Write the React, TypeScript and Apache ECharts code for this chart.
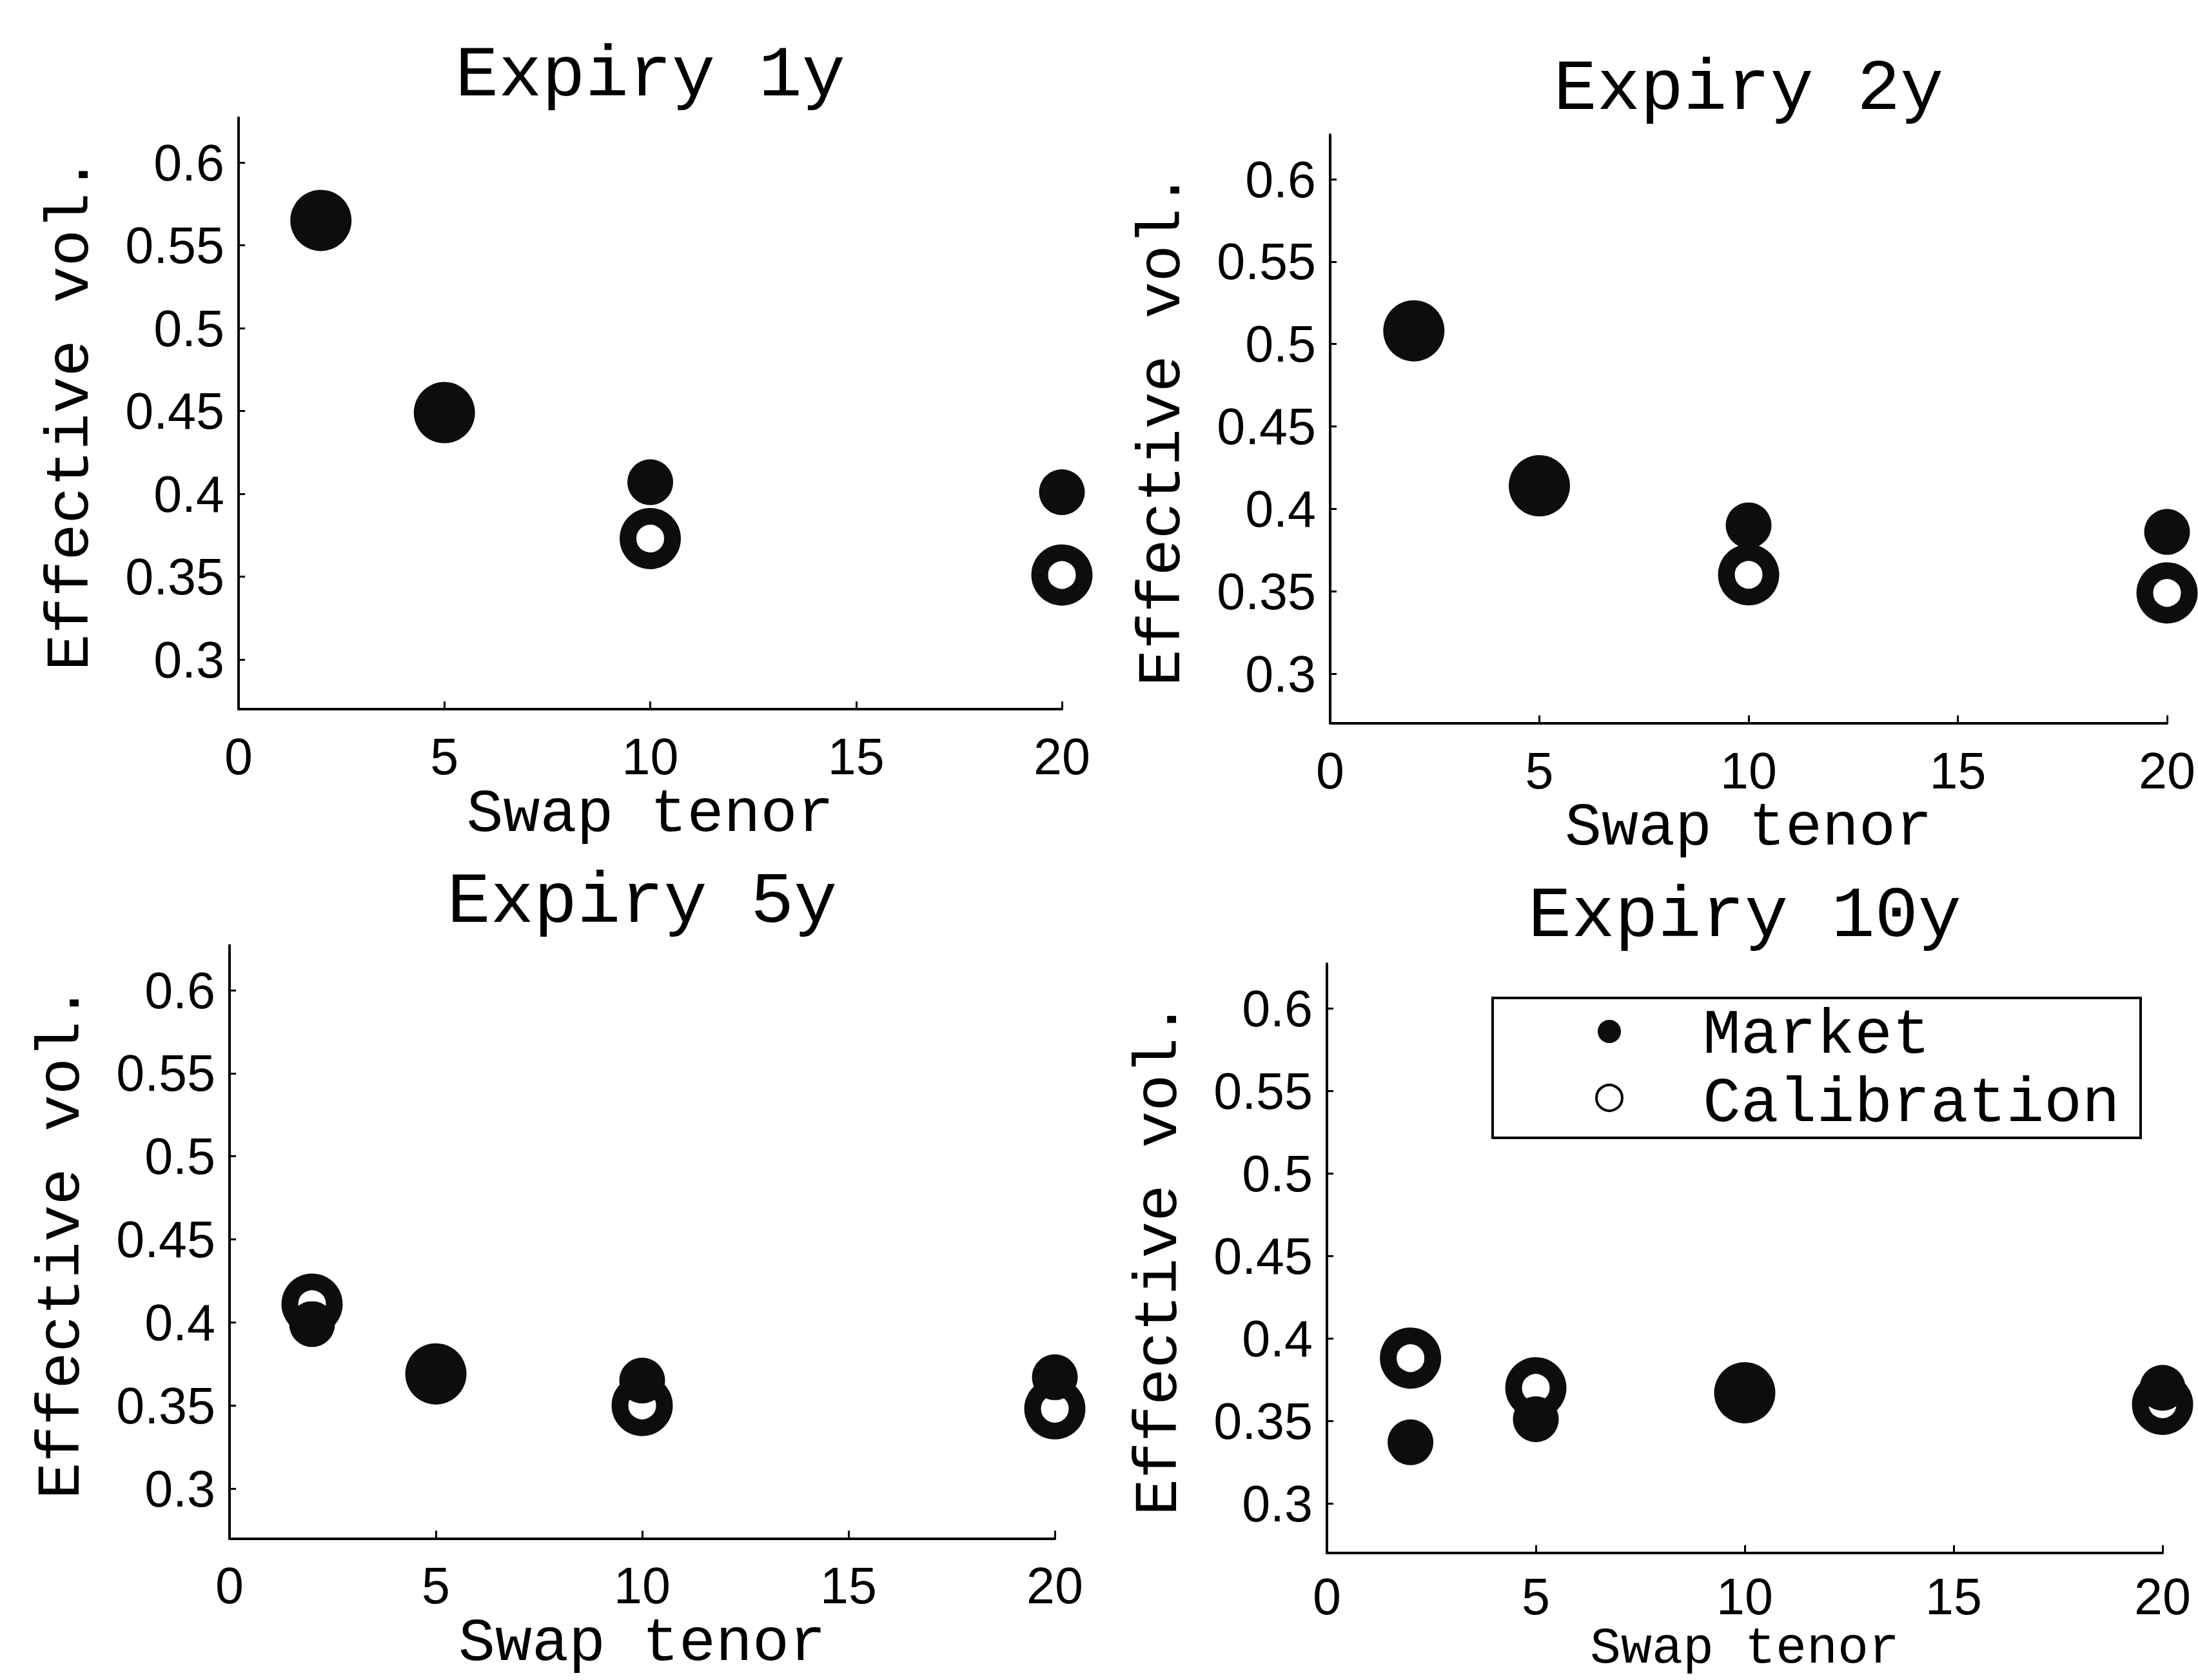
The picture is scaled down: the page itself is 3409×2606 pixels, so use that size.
import React, { useEffect, useRef } from 'react';
import * as echarts from 'echarts';

// ---- data ----
const tenors = [2, 5, 10, 20];
const expiryTitles = ['Expiry 1y', 'Expiry 2y', 'Expiry 5y', 'Expiry 10y'];
const market1y = [0.565, 0.449, 0.407, 0.401];
const calib1y = [0.565, 0.449, 0.373, 0.351];
const market2y = [0.508, 0.414, 0.39, 0.386];
const calib2y = [0.508, 0.414, 0.36, 0.349];
const market5y = [0.399, 0.369, 0.365, 0.367];
const calib5y = [0.411, 0.369, 0.35, 0.348];
const market10y = [0.337, 0.351, 0.367, 0.37];
const calib10y = [0.388, 0.37, 0.367, 0.36];
const yTickValues = [0.3, 0.35, 0.4, 0.45, 0.5, 0.55, 0.6];
const xAxisLabel = 'Swap tenor';
const yAxisLabel = 'Effective vol.';
const legendNames = ['Market', 'Calibration'];

const marketSets = [market1y, market2y, market5y, market10y];
const calibSets = [calib1y, calib2y, calib5y, calib10y];

const Y_MIN = 0.27;
const Y_MAX = 0.627;

// panel geometry: pixel of x=0, x=20, y=0.6, y=0.3, title centre y
const panels = [
  { x0: 370, x20: 1647, y06: 252, y03: 1023, ty: 120, nameGap: 116, fs: 95, lm: 34 },
  { x0: 2063, x20: 3361, y06: 278, y03: 1045, ty: 141, nameGap: 116, fs: 95, lm: 34 },
  { x0: 356, x20: 1636, y06: 1536, y03: 2309, ty: 1402, nameGap: 116, fs: 95, lm: 34 },
  { x0: 2058, x20: 3354, y06: 1564, y03: 2332, ty: 1424, nameGap: 109, fs: 80, lm: 28 },
];

const MONO = "'Liberation Mono', 'DejaVu Sans Mono', monospace";
const SANS = "'Liberation Sans', Arial, sans-serif";
const INK = '#0d0d0d';

export default function App() {
  const ref = useRef<HTMLDivElement>(null);
  useEffect(() => {
    if (!ref.current) return;
    const chart = echarts.init(ref.current, undefined, { renderer: 'svg' });

    const grids: any[] = [];
    const xAxes: any[] = [];
    const yAxes: any[] = [];
    const titles: any[] = [];
    const series: any[] = [];

    panels.forEach((p, i) => {
      const ppu = (p.y03 - p.y06) / 0.3;
      const top = p.y06 - (Y_MAX - 0.6) * ppu;
      const height = (Y_MAX - Y_MIN) * ppu;
      grids.push({ left: p.x0, top, width: p.x20 - p.x0, height });
      titles.push({
        text: expiryTitles[i],
        left: (p.x0 + p.x20) / 2,
        top: p.ty - 58,
        textAlign: 'center',
        padding: 0,
        textStyle: { fontFamily: MONO, fontSize: 112, fontWeight: 'normal', color: '#000' },
      });
      xAxes.push({
        gridIndex: i,
        type: 'value',
        min: 0,
        max: 20,
        interval: 5,
        name: xAxisLabel,
        nameLocation: 'middle',
        nameGap: p.nameGap,
        nameTextStyle: { fontFamily: MONO, fontSize: p.fs, color: '#000' },
        axisLine: { show: true, onZero: false, lineStyle: { color: '#000', width: 4 } },
        axisTick: { show: true, inside: true, length: 12, lineStyle: { color: '#000', width: 3 } },
        axisLabel: { fontFamily: SANS, fontSize: 79, color: '#000', margin: p.lm },
        splitLine: { show: false },
      });
      yAxes.push({
        gridIndex: i,
        type: 'value',
        min: Y_MIN,
        max: Y_MAX,
        name: yAxisLabel,
        nameLocation: 'middle',
        nameGap: 212,
        nameRotate: 90,
        nameTextStyle: { fontFamily: MONO, fontSize: 95, color: '#000' },
        axisLine: { show: true, onZero: false, lineStyle: { color: '#000', width: 4 } },
        axisTick: {
          show: true,
          inside: true,
          length: 10,
          customValues: yTickValues,
          lineStyle: { color: '#000', width: 3 },
        },
        axisLabel: {
          fontFamily: SANS,
          fontSize: 79,
          color: '#000',
          margin: 22,
          customValues: yTickValues,
          formatter: (v: number) => String(+v.toFixed(2)),
        },
        splitLine: { show: false },
      });
      series.push({
        name: legendNames[1],
        type: 'scatter',
        xAxisIndex: i,
        yAxisIndex: i,
        symbol: 'circle',
        symbolSize: 69,
        itemStyle: { color: 'transparent', borderColor: INK, borderWidth: 26, opacity: 1 },
        emphasis: { disabled: true },
        data: tenors.map((t, j) => [t, calibSets[i][j]]),
      });
      series.push({
        name: legendNames[0],
        type: 'scatter',
        xAxisIndex: i,
        yAxisIndex: i,
        symbol: 'circle',
        symbolSize: 71,
        itemStyle: { color: INK, opacity: 1 },
        emphasis: { disabled: true },
        data: tenors.map((t, j) => [t, marketSets[i][j]]),
      });
    });

    const lg = { x: 2315, y: 1548, w: 1005, h: 217 };
    const graphic: any[] = [
      {
        type: 'rect',
        shape: { x: lg.x, y: lg.y, width: lg.w, height: lg.h },
        style: { fill: '#fff', stroke: '#000', lineWidth: 4 },
        z: 100,
      },
      {
        type: 'circle',
        shape: { cx: 2496, cy: 1600, r: 18 },
        style: { fill: INK },
        z: 101,
      },
      {
        type: 'circle',
        shape: { cx: 2496, cy: 1703, r: 20 },
        style: { fill: '#fff', stroke: '#000', lineWidth: 4 },
        z: 101,
      },
      {
        type: 'text',
        x: 2641,
        y: 1606,
        style: { text: legendNames[0], fontFamily: MONO, fontSize: 98, fill: '#000', align: 'left', verticalAlign: 'middle' },
        z: 101,
      },
      {
        type: 'text',
        x: 2641,
        y: 1712,
        style: { text: legendNames[1], fontFamily: MONO, fontSize: 98, fill: '#000', align: 'left', verticalAlign: 'middle' },
        z: 101,
      },
    ];

    chart.setOption({
      animation: false,
      backgroundColor: '#fff',
      title: titles,
      grid: grids,
      xAxis: xAxes,
      yAxis: yAxes,
      series,
      graphic,
    });
    return () => chart.dispose();
  }, []);

  return (
    <div
      ref={ref}
      style={{ position: 'fixed', left: 0, top: 0, width: 3409, height: 2606, background: '#fff' }}
    />
  );
}
